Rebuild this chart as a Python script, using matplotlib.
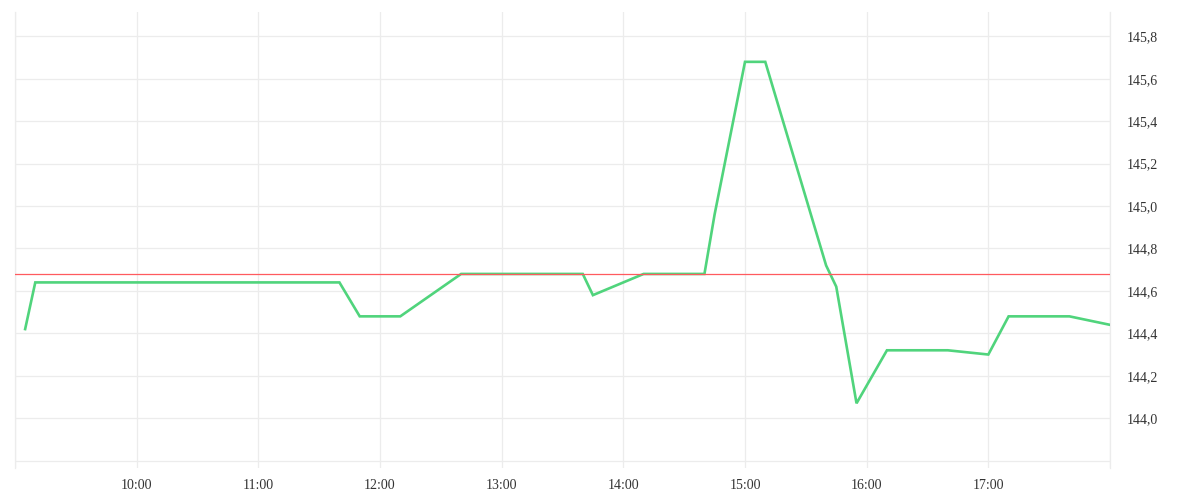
import matplotlib
matplotlib.use('agg')
import matplotlib.pyplot as plt
import matplotlib.dates as mdates
import pandas as pd
from matplotlib.ticker import FuncFormatter

# price series
times = ['09:05', '09:10', '11:40', '11:50', '12:10', '12:40', '13:40', '13:45',
         '14:10', '14:40', '14:45', '14:50', '15:00', '15:10', '15:40', '15:45',
         '15:55', '16:10', '16:40', '17:00', '17:10', '17:40', '18:00']
prices = [144.42, 144.64, 144.64, 144.48, 144.48, 144.68, 144.68, 144.58,
          144.68, 144.68, 144.96, 145.20, 145.68, 145.68, 144.72, 144.62,
          144.07, 144.32, 144.32, 144.30, 144.48, 144.48, 144.44]
ref_price = 144.68
day = '2024-01-01 '

x = pd.to_datetime([day + t for t in times])
x0 = pd.Timestamp(day + '09:00')
x1 = pd.Timestamp(day + '18:00')

plt.rcParams['font.family'] = ['Liberation Serif', 'DejaVu Serif']

fig = plt.figure(figsize=(12, 5), dpi=100)
ax = fig.add_axes([0.0125, 0.064, 0.9125, 0.912])

ax.plot(x, prices, color='#50d47c', linewidth=1.9, solid_joinstyle='miter', zorder=3)
ax.axhline(ref_price, color='#ff5a5f', linewidth=0.9, zorder=4)

ax.set_xlim(x0, x1)
ax.set_ylim(143.765, 145.915)

ax.xaxis.set_major_locator(mdates.HourLocator())
ax.xaxis.set_major_formatter(FuncFormatter(
    lambda v, p: '' if mdates.num2date(v).hour in (9, 18) else mdates.num2date(v).strftime('%H:%M')))
ax.set_yticks([143.8, 144.0, 144.2, 144.4, 144.6, 144.8, 145.0, 145.2, 145.4, 145.6, 145.8])
ax.yaxis.set_major_formatter(FuncFormatter(
    lambda v, p: '' if v < 143.9 else ('%.1f' % v).replace('.', ',')))
ax.yaxis.tick_right()

ax.grid(True, color='#ececec', linewidth=0.9)
ax.set_axisbelow(True)
for side in ['top', 'bottom']:
    ax.spines[side].set_visible(False)
for side in ['left', 'right']:
    ax.spines[side].set_color('#ececec')
    ax.spines[side].set_linewidth(0.9)
ax.tick_params(axis='both', length=0, labelsize=10, colors='#333333')
ax.tick_params(axis='y', pad=12)
ax.tick_params(axis='x', pad=8)

plt.savefig('out.png', dpi=100)
